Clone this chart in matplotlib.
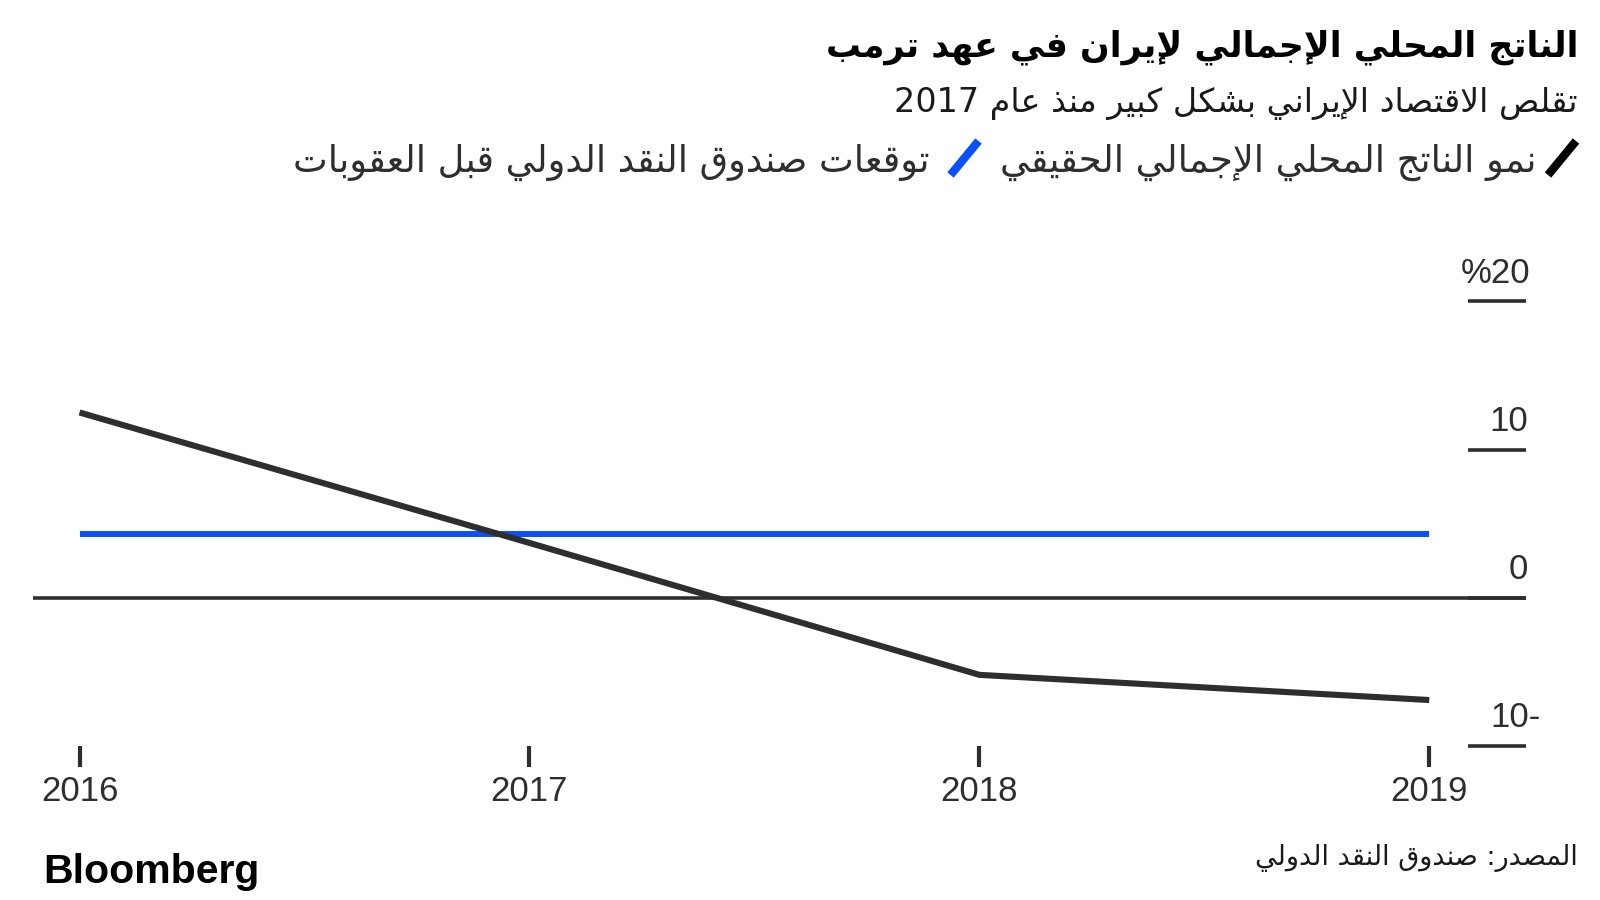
import re
import matplotlib
matplotlib.use("Agg")
import matplotlib.pyplot as plt
from matplotlib.lines import Line2D

# data
years = [2016, 2017, 2018, 2019]
real_gdp = [12.5, 3.7, -5.2, -6.9]
imf_forecast = [4.3, 4.3, 4.3, 4.3]
y_ticks = [-10, 0, 10, 20]

title = "الناتج المحلي الإجمالي لإيران في عهد ترمب"
subtitle = "تقلص الاقتصاد الإيراني بشكل كبير منذ عام 2017"
legend_real = "نمو الناتج المحلي الإجمالي الحقيقي"
legend_imf = "توقعات صندوق النقد الدولي قبل العقوبات"
source = "المصدر: صندوق النقد الدولي"

# --- tiny arabic shaper (presentation forms B) + visual order ---
_table = [("ء", 0xFE80, 1), ("آ", 0xFE81, 2), ("أ", 0xFE83, 2), ("ؤ", 0xFE85, 2),
          ("إ", 0xFE87, 2), ("ئ", 0xFE89, 4), ("ا", 0xFE8D, 2), ("ب", 0xFE8F, 4),
          ("ة", 0xFE93, 2), ("ت", 0xFE95, 4), ("ث", 0xFE99, 4), ("ج", 0xFE9D, 4),
          ("ح", 0xFEA1, 4), ("خ", 0xFEA5, 4), ("د", 0xFEA9, 2), ("ذ", 0xFEAB, 2),
          ("ر", 0xFEAD, 2), ("ز", 0xFEAF, 2), ("س", 0xFEB1, 4), ("ش", 0xFEB5, 4),
          ("ص", 0xFEB9, 4), ("ض", 0xFEBD, 4), ("ط", 0xFEC1, 4), ("ظ", 0xFEC5, 4),
          ("ع", 0xFEC9, 4), ("غ", 0xFECD, 4), ("ف", 0xFED1, 4), ("ق", 0xFED5, 4),
          ("ك", 0xFED9, 4), ("ل", 0xFEDD, 4), ("م", 0xFEE1, 4), ("ن", 0xFEE5, 4),
          ("ه", 0xFEE9, 4), ("و", 0xFEED, 2), ("ى", 0xFEEF, 2), ("ي", 0xFEF1, 4)]
FORMS = {c: (b, n) for c, b, n in _table}
LAM_ALEF = {"آ": 0xFEF5, "أ": 0xFEF7, "إ": 0xFEF9, "ا": 0xFEFB}


def shape(text):
    out = []
    i = 0
    while i < len(text):
        c = text[i]
        prev = text[i - 1] if i > 0 else ""
        before = prev in FORMS and FORMS[prev][1] == 4
        if c == "ل" and i + 1 < len(text) and text[i + 1] in LAM_ALEF:
            out.append(chr(LAM_ALEF[text[i + 1]] + int(before)))
            i += 2
            continue
        if c in FORMS:
            base, nf = FORMS[c]
            nxt = text[i + 1] if i + 1 < len(text) else ""
            after = nf == 4 and nxt in FORMS and FORMS[nxt][1] > 1
            if before and nf > 1:
                form = 3 if after else 1
            else:
                form = 2 if after else 0
            out.append(chr(base + form))
        else:
            out.append(c)
        i += 1
    return "".join(out)


def rtl(text):
    s = shape(text)[::-1]
    return re.sub(r"[0-9A-Za-z.%]+", lambda m: m.group(0)[::-1], s)


AR = "DejaVu Sans"
NUM = "Liberation Sans"
DARK = "#2e2e2e"
BLUE = "#0a50ff"

W, H = 1600, 900
fig = plt.figure(figsize=(16, 9), dpi=100)


def fx(px):
    return px / W


def fy(py):
    return 1 - py / H


ax = fig.add_axes([fx(32.5), fy(746), (1526 - 32.5) / W, (746 - 301.3) / H])
ax.set_xlim(2015.8955, 2019.215)
ax.set_ylim(-10, 20)
for s in ax.spines.values():
    s.set_visible(False)

ax.axhline(0, color=DARK, lw=2.6, zorder=1)
ax.plot(years, imf_forecast, color=BLUE, lw=4.3, solid_capstyle="butt", zorder=2)
ax.plot(years, real_gdp, color=DARK, lw=4.4, solid_capstyle="butt",
        solid_joinstyle="miter", zorder=3)

ax.set_xticks(years)
ax.set_xticklabels([str(y) for y in years], fontfamily=NUM, fontsize=25, color=DARK)
ax.tick_params(axis="x", direction="out", length=15, width=3, color=DARK, pad=6)
ax.tick_params(axis="y", left=False, labelleft=False)

for v in y_ticks:
    ax.plot([0.9612, 1.0], [v, v], transform=ax.get_yaxis_transform(),
            color=DARK, lw=2.6, clip_on=False, solid_capstyle="butt")
    if v < 0:
        lbl, dx = "%d-" % abs(v), 10.5
    elif v == max(y_ticks):
        lbl, dx = "%%%d" % v, 3
    else:
        lbl, dx = str(v), 1.5
    ax.annotate(lbl, (1.0, v), xycoords=("axes fraction", "data"),
                xytext=(dx, 13.4), textcoords="offset points",
                ha="right", va="baseline", fontfamily=NUM, fontsize=25, color=DARK)

# header
fig.text(fx(1578), fy(56), rtl(title), ha="right", va="baseline",
         fontfamily=AR, fontweight="bold", fontsize=25, color="black")
fig.text(fx(1578), fy(112), rtl(subtitle), ha="right", va="baseline",
         fontfamily=AR, fontsize=24, color="#1a1a1a")

# legend
fig.add_artist(Line2D([fx(1548), fx(1576)], [fy(175), fy(141)], color="black",
                      lw=6, solid_capstyle="butt"))
t1 = fig.text(fx(1537), fy(172), rtl(legend_real), ha="right", va="baseline",
              fontfamily=AR, fontsize=26.5, color=DARK)
fig.canvas.draw()
bb = t1.get_window_extent()
left1 = bb.x0
fig.add_artist(Line2D([(left1 - 20 - 30) / W, (left1 - 22) / W], [fy(175), fy(141)],
                      color=BLUE, lw=6, solid_capstyle="butt"))
fig.text((left1 - 20 - 34 - 17) / W, fy(172), rtl(legend_imf), ha="right", va="baseline",
         fontfamily=AR, fontsize=26.5, color=DARK)

# footer
fig.text(fx(43), fy(883), "Bloomberg", ha="left", va="baseline",
         fontfamily=NUM, fontweight="bold", fontsize=29.5, color="black")
fig.text(fx(1578), fy(865), rtl(source), ha="right", va="baseline",
         fontfamily=AR, fontsize=19.5, color="#1a1a1a")

plt.savefig("out.png", dpi=100)
